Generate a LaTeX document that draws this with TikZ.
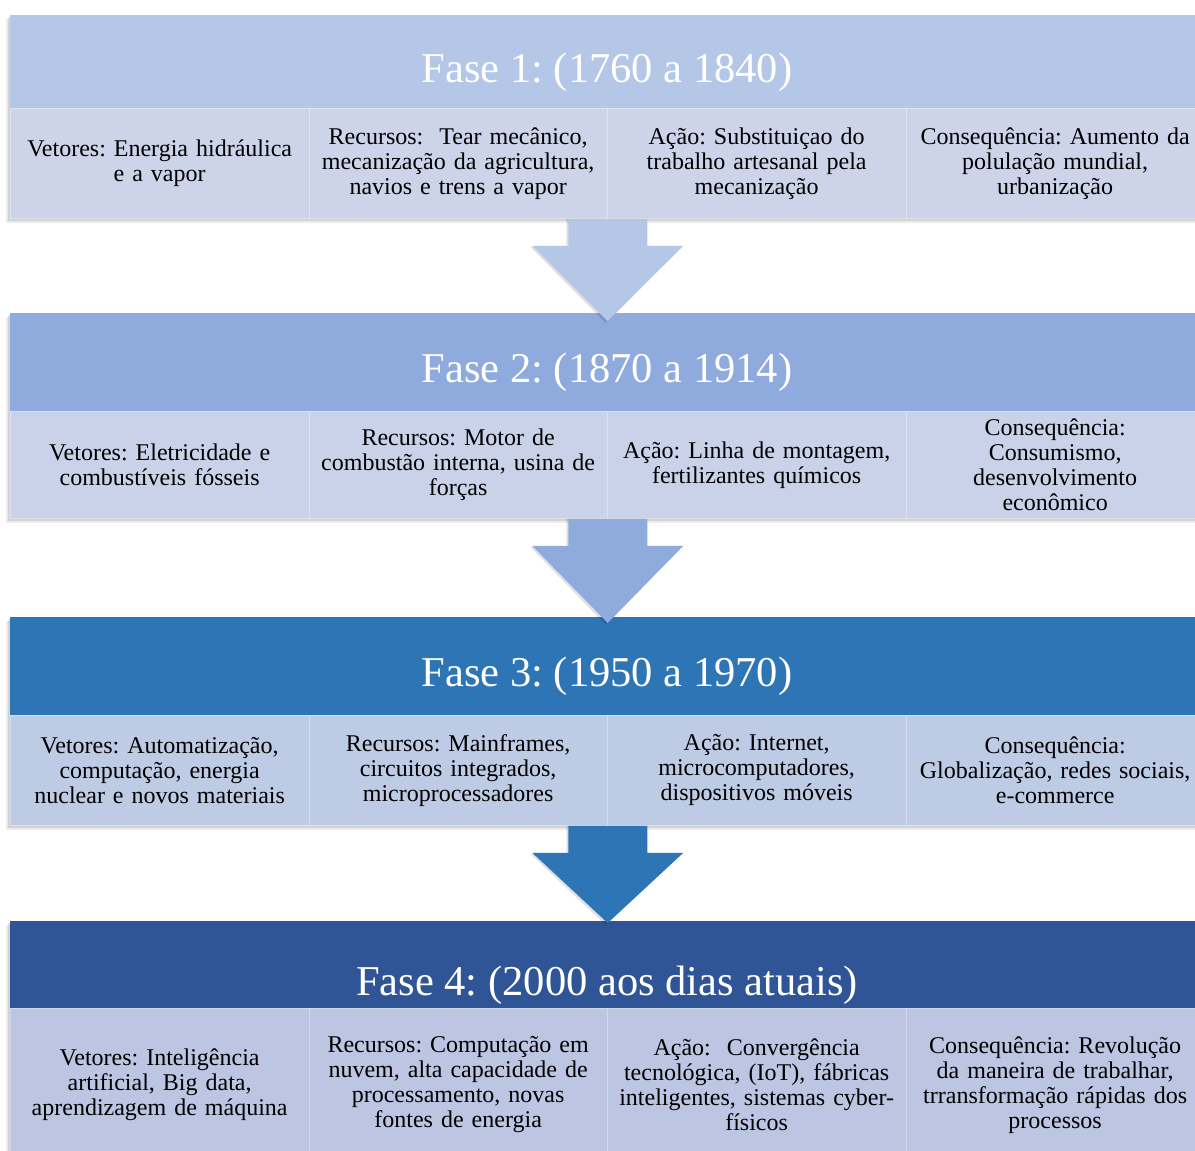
\documentclass[tikz,border=0pt]{standalone}
\usepackage{fontspec}
\setmainfont{Liberation Serif}
\usetikzlibrary{calc}
\definecolor{hA}{HTML}{B4C7E7}
\definecolor{cA}{HTML}{CDD4EA}
\definecolor{hB}{HTML}{8FAADC}
\definecolor{cB}{HTML}{CAD2E9}
\definecolor{hC}{HTML}{2E75B6}
\definecolor{cC}{HTML}{BDCBE5}
\definecolor{hD}{HTML}{2F5597}
\definecolor{cD}{HTML}{BCC6E2}
\frenchspacing
\begin{document}
\begin{tikzpicture}[x=1pt,y=-1pt,
  hdrbox/.style={rectangle, inner sep=0pt, minimum width=1194pt, anchor=north west},
  hdrtext/.style={text=white, font=\fontsize{42.5}{50}\selectfont\frenchspacing, anchor=base, inner sep=0pt},
  cellbox/.style={rectangle, inner sep=2pt, minimum width=298.5pt, text width=292pt, align=center,
    anchor=north west, font=\fontsize{24}{25}\selectfont\frenchspacing, draw=white, draw opacity=0.35, line width=0.8pt},
  shadowA/.style={fill=black, opacity=0.10},
  shadowB/.style={fill=black, opacity=0.08}
]
\useasboundingbox (0,0) rectangle (1195,1151);
\fill[white] (0,0) rectangle (1195,1151);

% ---------- shadows ----------
\foreach \t/\b in {15/218, 313/518, 617/825, 921/1148}{
  \fill[shadowB] (6,\t+4) rectangle (1210,\b+5);
  \fill[shadowA] (8,\t+2) rectangle (1210,\b+3);
}

% ---------- Phase 1 ----------
\node[hdrbox, fill=hA, minimum height=93pt] (h1) at (10,15) {};
\node[hdrtext] (t1) at (607,82) {Fase 1: (1760 a 1840)};
\node[cellbox, fill=cA, minimum height=110pt] (v1) at (10,108) {Vetores: Energia hidráulica\\e a vapor};
\node[cellbox, fill=cA, minimum height=110pt] (r1) at (308.5,108) {Recursos:\ \ Tear mecânico,\\mecanização da agricultura,\\navios e trens a vapor};
\node[cellbox, fill=cA, minimum height=110pt] (a1) at (607,108) {Ação: Substituiçao do\\trabalho artesanal pela\\mecanização};
\node[cellbox, fill=cA, minimum height=110pt] (c1) at (905.5,108) {Consequência: Aumento da\\polulação mundial,\\urbanização};

% ---------- Phase 2 ----------
\node[hdrbox, fill=hB, minimum height=98pt] (h2) at (10,313) {};
\node[hdrtext] (t2) at (607,382) {Fase 2: (1870 a 1914)};
\node[cellbox, fill=cB, minimum height=107pt] (v2) at (10,411) {Vetores: Eletricidade e\\combustíveis fósseis};
\node[cellbox, fill=cB, minimum height=107pt] (r2) at (308.5,411) {Recursos: Motor de\\combustão interna, usina de\\forças};
\node[cellbox, fill=cB, minimum height=107pt] (a2) at (607,411) {Ação: Linha de montagem,\\fertilizantes químicos};
\node[cellbox, fill=cB, minimum height=107pt] (c2) at (905.5,411) {Consequência:\\Consumismo,\\desenvolvimento\\econômico};

% ---------- Phase 3 ----------
\node[hdrbox, fill=hC, minimum height=98pt] (h3) at (10,617) {};
\node[hdrtext] (t3) at (607,686) {Fase 3: (1950 a 1970)};
\node[cellbox, fill=cC, minimum height=110pt] (v3) at (10,715) {Vetores: Automatização,\\computação, energia\\nuclear e novos materiais};
\node[cellbox, fill=cC, minimum height=110pt] (r3) at (308.5,715) {Recursos: Mainframes,\\circuitos integrados,\\microprocessadores};
\node[cellbox, fill=cC, minimum height=110pt] (a3) at (607,715) {Ação: Internet,\\microcomputadores,\\dispositivos móveis};
\node[cellbox, fill=cC, minimum height=110pt] (c3) at (905.5,715) {Consequência:\\Globalização, redes sociais,\\e-commerce};

% ---------- Phase 4 ----------
\node[hdrbox, fill=hD, minimum height=87pt] (h4) at (10,921) {};
\node[hdrtext] (t4) at (607,995) {Fase 4: (2000 aos dias atuais)};
\node[cellbox, fill=cD, minimum height=153pt] (v4) at (10,1008) {Vetores: Inteligência\\artificial, Big data,\\aprendizagem de máquina};
\node[cellbox, fill=cD, minimum height=153pt] (r4) at (308.5,1008) {Recursos: Computação em\\nuvem, alta capacidade de\\processamento, novas\\fontes de energia};
\node[cellbox, fill=cD, minimum height=153pt] (a4) at (607,1008) {Ação:\ \ Convergência\\tecnológica, (IoT), fábricas\\inteligentes, sistemas cyber-\\físicos};
\node[cellbox, fill=cD, minimum height=153pt] (c4) at (905.5,1008) {Consequência: Revolução\\da maneira de trabalhar,\\trransformação rápidas dos\\processos};

% ---------- block arrows between phases ----------
\foreach \src/\dst/\col/\tip in {r1/h2/hA/8, r2/h3/hB/6, r3/h4/hC/2}{
  \coordinate (s) at (\src.south east);
  \coordinate (d) at ($(\dst.north)+(0.5,0)$);
  \fill[black, opacity=0.12] ($(s)+(-41.5,0)$) -- ($(s)+(-41.5,28)$) -- ($(s)+(-77.5,28)$)
     -- ($(d)+(-2,\tip+2)$) -- ($(s)+(73.5,28)$) -- ($(s)+(37.5,28)$) -- ($(s)+(37.5,0)$) -- cycle;
  \fill[\col] ($(s)+(-39.5,0)$) -- ($(s)+(-39.5,27)$) -- ($(s)+(-75.5,27)$)
     -- ($(d)+(0,\tip)$) -- ($(s)+(75.5,27)$) -- ($(s)+(39.5,27)$) -- ($(s)+(39.5,0)$) -- cycle;
}
\end{tikzpicture}
\end{document}
